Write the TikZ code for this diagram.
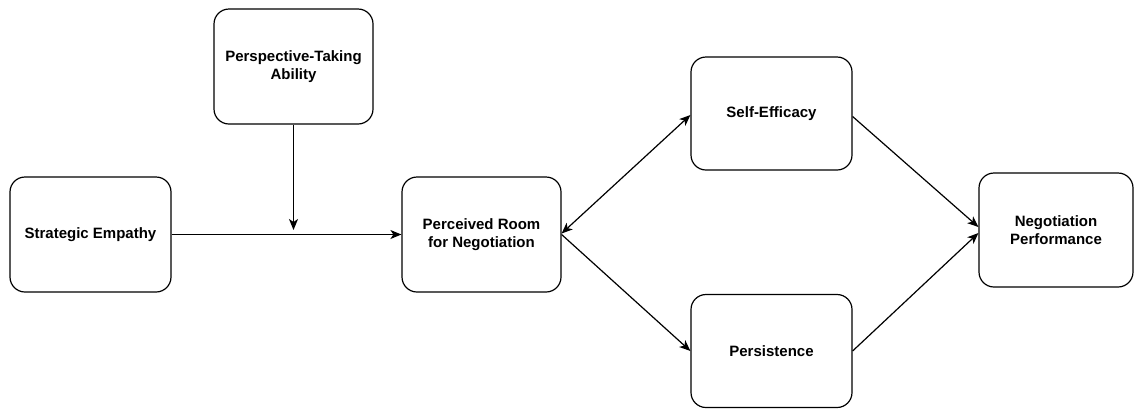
\documentclass[tikz,border=0pt]{standalone}
\usepackage{fontspec}
\setmainfont{Liberation Sans}
\usetikzlibrary{arrows.meta}
\begin{document}
\begin{tikzpicture}[x=1pt,y=-1pt,
  box/.style={draw, line width=1.2pt, rounded corners=15pt, align=center,
    font=\fontsize{15}{18}\selectfont\bfseries, inner sep=0pt},
  tip/.style={Stealth[length=11pt,width=9pt,inset=3pt]},
  conn/.style={line width=1.2pt, -{Stealth[length=11pt,width=9pt,inset=3pt]}},
  dconn/.style={line width=1.2pt, {Stealth[length=11pt,width=9pt,inset=3pt]}-{Stealth[length=11pt,width=9pt,inset=3pt]}}]
\useasboundingbox (0,0) rectangle (1134,408);
\node[box, minimum width=161pt, minimum height=115pt] (se) at (90.5,234.5) {Strategic Empathy};
\node[box, minimum width=159pt, minimum height=115pt] (pt) at (293.5,66.5) {Perspective-Taking\\Ability};
\node[box, minimum width=159pt, minimum height=115pt] (pr) at (481.5,234.5) {Perceived Room\\for Negotiation};
\node[box, minimum width=161pt, minimum height=113pt] (sf) at (771.5,113.5) {Self-Efficacy};
\node[box, minimum width=161pt, minimum height=113pt] (ps) at (771.5,351) {Persistence};
\node[box, minimum width=154pt, minimum height=114pt] (np) at (1056,230) {Negotiation\\Performance};
\coordinate (mod) at (293.5,230);
\draw[conn] (se.east) -- (pr.west);
\draw[conn] (pt.south) -- (mod);
\draw[dconn] ([yshift=1pt]pr.east) -- ([yshift=-1.5pt]sf.west);
\draw[conn] (pr.east) -- (ps.west);
\draw[conn] ([yshift=-3pt]sf.east) -- ([yshift=3pt]np.west);
\draw[conn] (ps.east) -- ([yshift=-3pt]np.west);
\end{tikzpicture}
\end{document}
